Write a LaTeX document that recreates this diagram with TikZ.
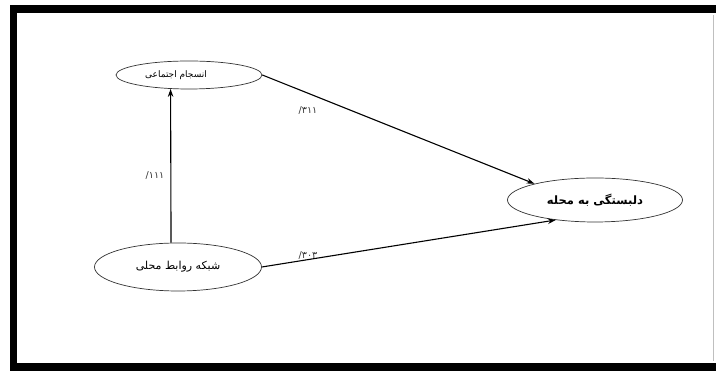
\documentclass[tikz,border=0pt]{standalone}
\usepackage{fontspec}
\usetikzlibrary{shapes.geometric,arrows.meta}
\TeXXeTstate=1
\newfontfamily\arabicfont[Script=Arabic]{DejaVu Sans}
\newfontfamily\digitfont{DejaVu Sans}
\begin{document}
\begin{tikzpicture}[x=1pt,y=1pt,
  oval/.style={draw=black!80,line width=0.7pt,ellipse,inner sep=0pt,fill=white},
  txt/.style={font=\arabicfont\fontsize{9}{10}\selectfont},
  arr/.style={line width=1.1pt,-{Stealth[length=8pt,width=5.5pt]}},
  coef/.style={font=\digitfont\fontsize{9.5}{10}\selectfont,text=black!80}]
\useasboundingbox (0,0) rectangle (716,371);
% frame
\fill[black] (10,0) rectangle (17,366);
\fill[black] (10,358) rectangle (716,366);
\fill[black] (10,0) rectangle (716,8);
\draw[black!25,line width=0.5pt] (713,10) -- (713,356);
% nodes
\node[oval,minimum width=146pt,minimum height=28pt] (a) at (189,296) {};
\node[txt] (ta) at (176,296) {\beginR انسجام اجتماعی\endR};
\node[oval,minimum width=175pt,minimum height=44pt,txt,font=\arabicfont\bfseries\fontsize{11.5}{12}\selectfont] (b) at (595,171) {\beginR دلبستگی به محله\endR};
\node[oval,minimum width=167pt,minimum height=48pt,txt,font=\arabicfont\fontsize{11}{12}\selectfont] (c) at (178,104) {\beginR شبکه روابط محلی\endR};
% connectors
\draw[arr] (c.106) -- (a.217);
\draw[arr] (a.east) -- (b.165);
\draw[arr] (c.east) -- (b.207);
% coefficients
\node[coef] (la) at (308,261) {/\arabicfont ۳۱۱};
\node[coef] (lc) at (155,196) {/\arabicfont ۱۱۱};
\node[coef] (lb) at (308,116) {/\arabicfont ۳۰۳};
\end{tikzpicture}
\end{document}
